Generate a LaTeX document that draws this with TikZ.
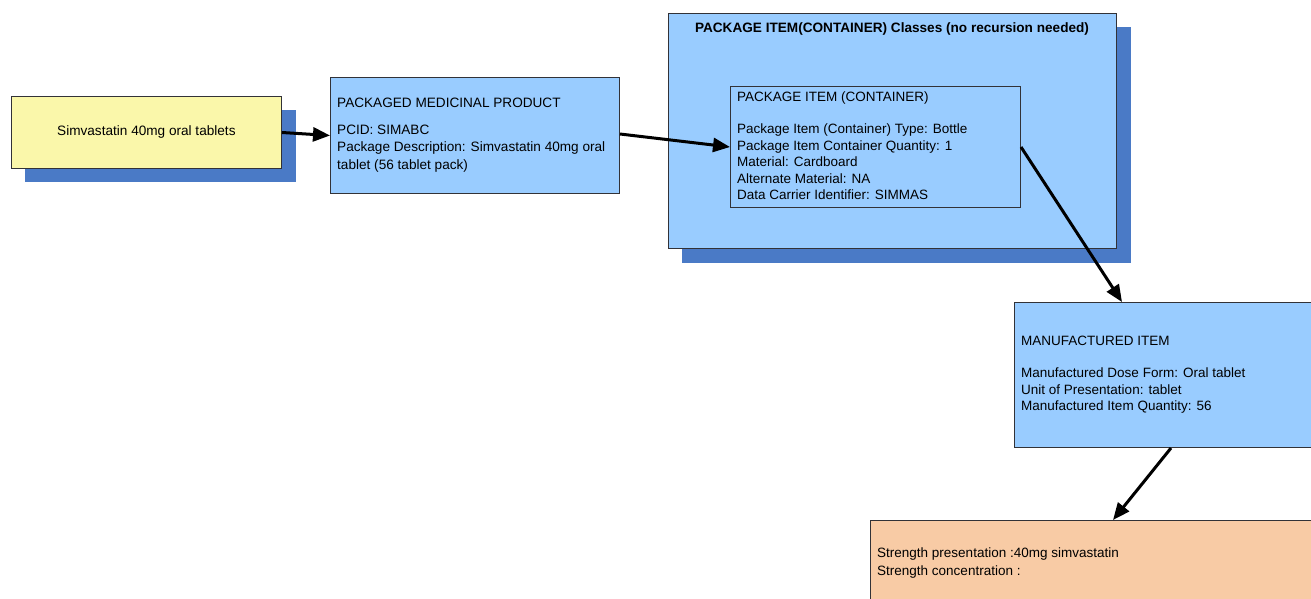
\documentclass[tikz,border=0pt]{standalone}
\usepackage{fontspec}
\setmainfont{Liberation Sans}
\usetikzlibrary{arrows.meta,calc}
\definecolor{shadowblue}{RGB}{74,122,198}
\definecolor{boxblue}{RGB}{153,204,255}
\definecolor{boxyellow}{RGB}{250,247,170}
\definecolor{boxorange}{RGB}{248,203,165}
\definecolor{edge}{RGB}{50,50,55}
\tikzset{
  box/.style={draw=edge,line width=1pt,rectangle,anchor=north west,inner sep=0pt},
  shadowbox/.style={fill=shadowblue,draw=none,rectangle,anchor=north west,inner sep=0pt},
  txt/.style={anchor=north west,align=left,inner sep=0pt,font=\fontsize{13.6}{17.5}\selectfont},
  smalltxt/.style={anchor=north west,align=left,inner sep=0pt,font=\fontsize{13.5}{16.5}\selectfont},
  conn/.style={line width=3pt,-{Triangle[length=17pt,width=14pt]}},
}
\begin{document}
\begin{tikzpicture}[x=1pt,y=-1pt]
\useasboundingbox (0,0) rectangle (1311,599);
\clip (0,0) rectangle (1311,599);
% yellow
\node[shadowbox,minimum width=271pt,minimum height=72pt] (ysh) at (25,110) {};
\node[box,fill=boxyellow,minimum width=270pt,minimum height=72pt] (yb) at (11,96) {};
\node[txt] (ytxt) at (57,125.5) {Simvastatin 40mg oral tablets};
% PMP
\node[box,fill=boxblue,minimum width=289pt,minimum height=116pt] (pmp) at (330,77) {};
\node[txt] (pmptxt) at (337,97.5) {PACKAGED MEDICINAL PRODUCT\\[9.5pt]PCID: SIMABC\\Package Description: Simvastatin 40mg oral\\tablet (56 tablet pack)};
% outer container
\node[shadowbox,minimum width=449pt,minimum height=236pt] (osh) at (682,27) {};
\node[box,fill=boxblue,minimum width=448pt,minimum height=235pt] (outer) at (668,13) {};
\node[anchor=north,inner sep=0pt,font=\bfseries\fontsize{13.6}{16}\selectfont] (otitle) at (892,22) {PACKAGE ITEM(CONTAINER) Classes (no recursion needed)};
% inner
\node[box,fill=boxblue,minimum width=290pt,minimum height=121pt] (inner) at (730,86) {};
\node[smalltxt] (innertxt) at (737,92) {PACKAGE ITEM (CONTAINER)\\[15.5pt]Package Item (Container) Type: Bottle\\Package Item Container Quantity: 1\\Material: Cardboard\\Alternate Material: NA\\Data Carrier Identifier: SIMMAS};
% manufactured item
\node[box,fill=boxblue,minimum width=310pt,minimum height=145pt] (mi) at (1014,302) {};
\node[smalltxt] (mitxt) at (1021,336) {MANUFACTURED ITEM\\[15.5pt]Manufactured Dose Form: Oral tablet\\Unit of Presentation: tablet\\Manufactured Item Quantity: 56};
% orange
\node[box,fill=boxorange,minimum width=460pt,minimum height=100pt] (str) at (870,520) {};
\node[smalltxt,font=\fontsize{13.5}{18}\selectfont] (strtxt) at (877,548) {Strength presentation :40mg simvastatin\\Strength concentration :};
% connectors
\draw[conn] (yb.east) -- (pmp.west);
\draw[conn] ($(pmp.north east)+(0,57)$) -- (inner.west);
\draw[conn] (inner.east) -- ($(mi.north west)+(108,0)$);
\draw[conn] ($(mi.south west)+(157,0)$) -- ($(str.north west)+(243,0)$);
\end{tikzpicture}
\end{document}
